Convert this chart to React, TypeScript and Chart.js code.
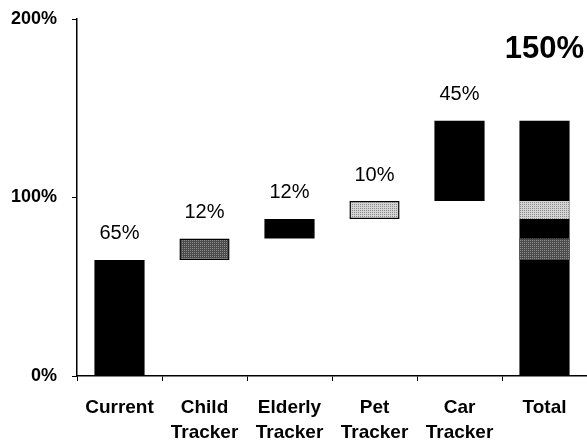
import React, { useEffect, useRef } from "react";
import { Chart, registerables } from "chart.js";

Chart.register(...registerables);

const categories: string[][] = [
  ["Current"],
  ["Child", "Tracker"],
  ["Elderly", "Tracker"],
  ["Pet", "Tracker"],
  ["Car", "Tracker"],
  ["Total"],
];
// Floating bar spans (start, end) in percent
const mainSpans: ([number, number] | null)[] = [[0, 65], null, [77, 88], null, [98, 143], [0, 143]];
const childSpans: ([number, number] | null)[] = [null, [65, 77], null, null, null, [65, 77]];
const petSpans: ([number, number] | null)[] = [null, null, null, [88, 98], null, [88, 98]];
const valueLabels = ["65%", "12%", "12%", "10%", "45%", ""];
const totalLabel = "150%";
const totalLabelValue = 183;
const yTicks = [0, 100, 200];

function makePattern(base: string, dot: string): CanvasPattern | string {
  const c = document.createElement("canvas");
  c.width = 4;
  c.height = 4;
  const ctx = c.getContext("2d");
  if (!ctx) return base;
  ctx.fillStyle = base;
  ctx.fillRect(0, 0, 4, 4);
  ctx.fillStyle = dot;
  ctx.fillRect(0, 0, 1, 1);
  ctx.fillRect(2, 2, 1, 1);
  ctx.fillRect(2, 0, 1, 1);
  ctx.fillRect(0, 2, 1, 1);
  const p = ctx.createPattern(c, "repeat");
  return p || base;
}

const FONT = "'Liberation Sans', Arial, sans-serif";

export default function App() {
  const ref = useRef<HTMLCanvasElement | null>(null);

  useEffect(() => {
    if (!ref.current) return;
    const darkPat = makePattern("#4a4a4a", "#8f8f8f");
    const lightPat = makePattern("#d4d4d4", "#8a8a8a");

    const labelPlugin = {
      id: "valueLabels",
      afterDatasetsDraw(chart: any) {
        const { ctx, scales } = chart;
        const xs = scales.x;
        const ys = scales.y;
        ctx.save();
        ctx.fillStyle = "#000";
        ctx.textAlign = "center";
        ctx.textBaseline = "middle";
        ctx.font = `20px ${FONT}`;
        mainSpans.forEach((_, i) => {
          const txt = valueLabels[i];
          if (!txt) return;
          const span = mainSpans[i] || childSpans[i] || petSpans[i];
          if (!span) return;
          const x = xs.getPixelForValue(i);
          const y = ys.getPixelForValue(span[1]) - 26;
          ctx.fillText(txt, x, y);
        });
        ctx.font = `bold 31px ${FONT}`;
        ctx.fillText(totalLabel, xs.getPixelForValue(categories.length - 1), ys.getPixelForValue(totalLabelValue));
        ctx.restore();
      },
    };

    const chart = new Chart(ref.current, {
      type: "bar",
      data: {
        labels: categories,
        datasets: [
          {
            label: "Pet",
            data: petSpans as any,
            backgroundColor: lightPat as any,
            borderColor: "#000",
            borderWidth: [0, 0, 0, 1.5, 0, 0] as any,
            borderSkipped: false,
            barPercentage: 0.59,
            categoryPercentage: 1,
          },
          {
            label: "Child",
            data: childSpans as any,
            backgroundColor: darkPat as any,
            borderColor: "#000",
            borderWidth: [0, 1.5, 0, 0, 0, 0] as any,
            borderSkipped: false,
            barPercentage: 0.59,
            categoryPercentage: 1,
          },
          {
            label: "Main",
            data: mainSpans as any,
            backgroundColor: "#000",
            borderWidth: 0,
            barPercentage: 0.59,
            categoryPercentage: 1,
          },
        ],
      },
      options: {
        animation: false,
        responsive: false,
        maintainAspectRatio: false,
        layout: { padding: { top: 19, right: 0, bottom: 0, left: 0 } },
        plugins: {
          legend: { display: false },
          tooltip: { enabled: false },
        },
        scales: {
          x: {
            stacked: true,
            offset: true,
            afterFit(scale: any) {
              scale.height = 67;
              scale.paddingLeft = 0;
              scale.paddingRight = 0;
            },
            grid: {
              display: true,
              offset: true,
              drawOnChartArea: false,
              drawTicks: true,
              tickLength: 5,
              color: "#000",
              lineWidth: 1,
            },
            border: { display: true, color: "#000", width: 1.5 },
            ticks: {
              color: "#000",
              font: { family: FONT, size: 19, weight: "bold", lineHeight: 1.32 },
              padding: 14,
              maxRotation: 0,
              autoSkip: false,
            },
          },
          y: {
            stacked: false,
            min: 0,
            max: 200,
            afterFit(scale: any) {
              scale.width = 77;
              scale.paddingTop = 0;
              scale.paddingBottom = 0;
            },
            afterBuildTicks(scale: any) {
              scale.ticks = yTicks.map((v) => ({ value: v }));
            },
            grid: {
              display: true,
              drawOnChartArea: false,
              drawTicks: true,
              tickLength: 5,
              color: "#000",
              lineWidth: 1,
            },
            border: { display: true, color: "#000", width: 1.5 },
            ticks: {
              color: "#000",
              font: { family: FONT, size: 18, weight: "bold" },
              padding: 15,
              callback: (v: any) => `${v}%`,
            },
          },
        },
      },
      plugins: [labelPlugin],
    });
    return () => chart.destroy();
  }, []);

  return (
    <div style={{ position: "absolute", left: 0, top: 0, width: 587, height: 443, background: "#fff" }}>
      <canvas ref={ref} width={587} height={443} style={{ width: 587, height: 443, display: "block" }} />
    </div>
  );
}
